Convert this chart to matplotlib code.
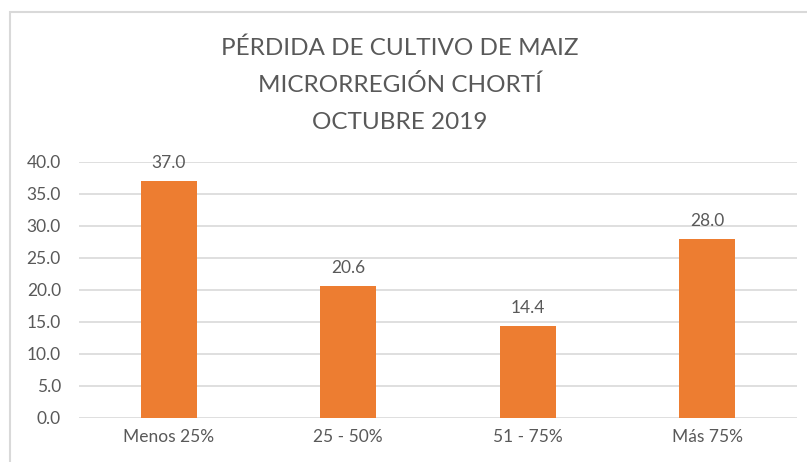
import matplotlib.pyplot as plt
from matplotlib.patches import Rectangle

categories = ['Menos 25%', '25 - 50%', '51 - 75%', 'Más 75%']
values = [37.0, 20.6, 14.4, 28.0]
yticks = [0, 5, 10, 15, 20, 25, 30, 35, 40]
title_lines = ['PÉRDIDA DE CULTIVO DE MAIZ', 'MICRORREGIÓN CHORTÍ', 'OCTUBRE 2019']

text_col = '#595959'
grid_col = '#d9d9d9'
bar_col = '#ed7d31'

plt.rcParams['font.family'] = ['Lato', 'DejaVu Sans']

W, H = 807, 462
fig = plt.figure(figsize=(W / 100, H / 100), dpi=100)

# chart frame (runs off right and bottom edge like the screenshot)
fig.patches.append(Rectangle((10 / W, -0.1), 1.2, 1.1 - 12 / H, transform=fig.transFigure,
                             fill=False, edgecolor=grid_col, linewidth=1.5))

ax = fig.add_axes([79 / W, 1 - 418 / H, (797 - 79) / W, (418 - 162) / H])
x = range(len(categories))
bars = ax.bar(x, values, width=0.31, color=bar_col, zorder=3)

ax.set_xlim(-0.5, len(categories) - 0.5)
ax.set_ylim(0, 40)
ax.set_yticks(yticks)
ax.set_yticklabels([f'{t:.1f}' for t in yticks])
ax.set_xticks(list(x))
ax.set_xticklabels(categories)
ax.tick_params(axis='both', length=0, labelsize=12.5, colors=text_col)
ax.tick_params(axis='y', pad=13)
ax.tick_params(axis='x', pad=8)
ax.grid(axis='y', color=grid_col, linewidth=1.2, zorder=0)
for s in ax.spines.values():
    s.set_visible(False)

for b, v in zip(bars, values):
    ax.annotate(f'{v:.1f}', (b.get_x() + b.get_width() / 2, v), xytext=(0, 13),
                textcoords='offset points', ha='center', va='center',
                fontsize=12.5, color=text_col)

for i, line in enumerate(title_lines):
    fig.text(400 / W, 1 - (48 + i * 37.5) / H, line, ha='center', va='center',
             fontsize=17.5, color=text_col)

fig.savefig('out.png', dpi=100)
